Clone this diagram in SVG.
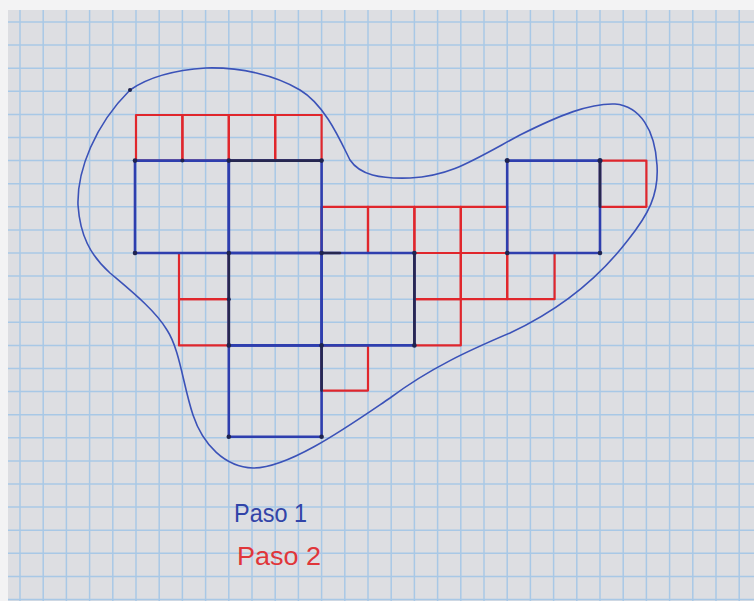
<svg xmlns="http://www.w3.org/2000/svg" width="754" height="601" viewBox="0 0 754 601">
<style>
.grid line{stroke:#a8c8e6;stroke-width:1.5}
.blue{fill:none;stroke:#2e3eae;stroke-width:2.6;stroke-linejoin:round}
.red{fill:none;stroke:#e0262c;stroke-width:2.2;stroke-linejoin:round}
.dark{fill:none;stroke:#262750;stroke-width:2.6;stroke-linecap:round}
.dot{fill:#1f2450}
.outline{fill:none;stroke:#3b52b8;stroke-width:1.6}
.lbl{font-family:"Liberation Sans","DejaVu Sans",sans-serif;font-size:26px}
</style>
<rect x="0" y="0" width="754" height="601" fill="#f3f3f4"/>
<rect x="8" y="10" width="746" height="591" fill="#dddee2"/>
<g class="grid">
<line x1="20" y1="10" x2="20" y2="601"/><line x1="43.2" y1="10" x2="43.2" y2="601"/><line x1="66.4" y1="10" x2="66.4" y2="601"/><line x1="89.6" y1="10" x2="89.6" y2="601"/><line x1="112.8" y1="10" x2="112.8" y2="601"/><line x1="136" y1="10" x2="136" y2="601"/><line x1="159.2" y1="10" x2="159.2" y2="601"/><line x1="182.4" y1="10" x2="182.4" y2="601"/><line x1="205.6" y1="10" x2="205.6" y2="601"/><line x1="228.8" y1="10" x2="228.8" y2="601"/><line x1="252" y1="10" x2="252" y2="601"/><line x1="275.2" y1="10" x2="275.2" y2="601"/><line x1="298.4" y1="10" x2="298.4" y2="601"/><line x1="321.6" y1="10" x2="321.6" y2="601"/><line x1="344.8" y1="10" x2="344.8" y2="601"/><line x1="368" y1="10" x2="368" y2="601"/><line x1="391.2" y1="10" x2="391.2" y2="601"/><line x1="414.4" y1="10" x2="414.4" y2="601"/><line x1="437.6" y1="10" x2="437.6" y2="601"/><line x1="460.8" y1="10" x2="460.8" y2="601"/><line x1="484" y1="10" x2="484" y2="601"/><line x1="507.2" y1="10" x2="507.2" y2="601"/><line x1="530.4" y1="10" x2="530.4" y2="601"/><line x1="553.6" y1="10" x2="553.6" y2="601"/><line x1="576.8" y1="10" x2="576.8" y2="601"/><line x1="600" y1="10" x2="600" y2="601"/><line x1="623.2" y1="10" x2="623.2" y2="601"/><line x1="646.4" y1="10" x2="646.4" y2="601"/><line x1="669.6" y1="10" x2="669.6" y2="601"/><line x1="692.8" y1="10" x2="692.8" y2="601"/><line x1="716" y1="10" x2="716" y2="601"/><line x1="739.2" y1="10" x2="739.2" y2="601"/>
<line x1="8" y1="22" x2="754" y2="22"/><line x1="8" y1="45.1" x2="754" y2="45.1"/><line x1="8" y1="68.2" x2="754" y2="68.2"/><line x1="8" y1="91.3" x2="754" y2="91.3"/><line x1="8" y1="114.4" x2="754" y2="114.4"/><line x1="8" y1="137.5" x2="754" y2="137.5"/><line x1="8" y1="160.6" x2="754" y2="160.6"/><line x1="8" y1="183.7" x2="754" y2="183.7"/><line x1="8" y1="206.8" x2="754" y2="206.8"/><line x1="8" y1="229.9" x2="754" y2="229.9"/><line x1="8" y1="253" x2="754" y2="253"/><line x1="8" y1="276.1" x2="754" y2="276.1"/><line x1="8" y1="299.2" x2="754" y2="299.2"/><line x1="8" y1="322.3" x2="754" y2="322.3"/><line x1="8" y1="345.4" x2="754" y2="345.4"/><line x1="8" y1="368.5" x2="754" y2="368.5"/><line x1="8" y1="391.6" x2="754" y2="391.6"/><line x1="8" y1="414.7" x2="754" y2="414.7"/><line x1="8" y1="437.8" x2="754" y2="437.8"/><line x1="8" y1="460.9" x2="754" y2="460.9"/><line x1="8" y1="484" x2="754" y2="484"/><line x1="8" y1="507.1" x2="754" y2="507.1"/><line x1="8" y1="530.2" x2="754" y2="530.2"/><line x1="8" y1="553.3" x2="754" y2="553.3"/><line x1="8" y1="576.4" x2="754" y2="576.4"/><line x1="8" y1="599.5" x2="754" y2="599.5"/>
</g>
<g id="outline">
<path class="outline" d="M130,90 C150,76 175,70 206,68 C240,67 275,75 300,90 C325,105 340,140 350,160 C360,175 380,179 410,178 C450,176 470,162 520,135 C560,115 590,103 615,104 C640,106 655,130 657,165 C659,195 648,215 628,240 C605,270 570,305 510,333 C470,350 430,368 390,398 C350,425 290,468 253,468 C225,467 203,445 193,415 C183,385 180,350 167,330 C155,310 130,290 110,273 C90,255 80,235 78,205 C77,170 95,125 130,90 Z"/>
</g>
<g id="paso2-squares">
<rect id="r1" class="red" x="136" y="115" width="46.4" height="45.6"/>
<rect id="r2" class="red" x="182.4" y="115" width="46.4" height="45.6"/>
<rect id="r3" class="red" x="228.8" y="115" width="46.4" height="45.6"/>
<rect id="r4" class="red" x="275.2" y="115" width="46.4" height="45.6"/>
<rect id="r5" class="red" x="179" y="253" width="49.8" height="46.2"/>
<rect id="r6" class="red" x="179" y="299.2" width="49.8" height="46.2"/>
<rect id="r7" class="red" x="321.6" y="206.8" width="46.4" height="46.2"/>
<rect id="r8" class="red" x="368" y="206.8" width="46.4" height="46.2"/>
<rect id="r9" class="red" x="414.4" y="206.8" width="46.4" height="46.2"/>
<rect id="r10" class="red" x="460.8" y="206.8" width="46.4" height="46.2"/>
<rect id="r11" class="red" x="414.4" y="253" width="46.4" height="46.2"/>
<rect id="r12" class="red" x="460.8" y="253" width="46.4" height="46.2"/>
<rect id="r13" class="red" x="507.2" y="253" width="47.4" height="46.2"/>
<rect id="r14" class="red" x="414.4" y="299.2" width="46.4" height="46.2"/>
<rect id="r15" class="red" x="321.6" y="345.4" width="46.4" height="45.2"/>
<rect id="r16" class="red" x="600" y="160.6" width="46.4" height="46.2"/>
</g>
<g id="paso1-squares">
<rect id="b1" class="blue" x="135" y="160.6" width="93.8" height="92.4"/>
<rect id="b2" class="blue" x="228.8" y="160.6" width="92.8" height="92.4"/>
<rect id="b3" class="blue" x="228.8" y="253" width="92.8" height="92.4"/>
<rect id="b4" class="blue" x="228.8" y="345.4" width="92.8" height="91.4"/>
<rect id="b5" class="blue" x="321.6" y="253" width="92.8" height="92.4"/>
<rect id="b6" class="blue" x="507.2" y="160.6" width="92.8" height="92.4"/>
</g>
<g id="shared-edges">
<path class="dark" d="M228.8,160.6 H321.6 M228.8,253 V345.4 M414.4,253 V345.4 M321.6,345.4 V390.6 M600,160.6 V206.8 M321.6,253 H340"/>
</g>
<g id="vertices">
<circle class="dot" cx="135" cy="160.6" r="2.3"/><circle class="dot" cx="182.4" cy="160.6" r="2"/><circle class="dot" cx="228.8" cy="160.6" r="2.3"/><circle class="dot" cx="321.6" cy="160.6" r="2.3"/>
<circle class="dot" cx="135" cy="253" r="2.3"/><circle class="dot" cx="228.8" cy="253" r="2.3"/><circle class="dot" cx="321.6" cy="253" r="2.3"/><circle class="dot" cx="414.4" cy="253" r="2.3"/>
<circle class="dot" cx="228.8" cy="299.2" r="2"/><circle class="dot" cx="228.8" cy="345.4" r="2.3"/><circle class="dot" cx="321.6" cy="345.4" r="2.3"/><circle class="dot" cx="414.4" cy="345.4" r="2.3"/>
<circle class="dot" cx="228.8" cy="436.8" r="2.3"/><circle class="dot" cx="321.6" cy="436.8" r="2.3"/>
<circle class="dot" cx="507.2" cy="160.6" r="2.5"/><circle class="dot" cx="600" cy="160.6" r="2.5"/><circle class="dot" cx="507.2" cy="253" r="2.3"/><circle class="dot" cx="600" cy="253" r="2.3"/>
<circle class="dot" cx="130" cy="90" r="2"/>
</g>
<g id="legend">
<text class="lbl" x="234" y="522" fill="#3244a8" textLength="73" lengthAdjust="spacingAndGlyphs">Paso 1</text>
<text class="lbl" x="237" y="565" fill="#e0363a" textLength="84" lengthAdjust="spacingAndGlyphs">Paso 2</text>
</g>
</svg>
